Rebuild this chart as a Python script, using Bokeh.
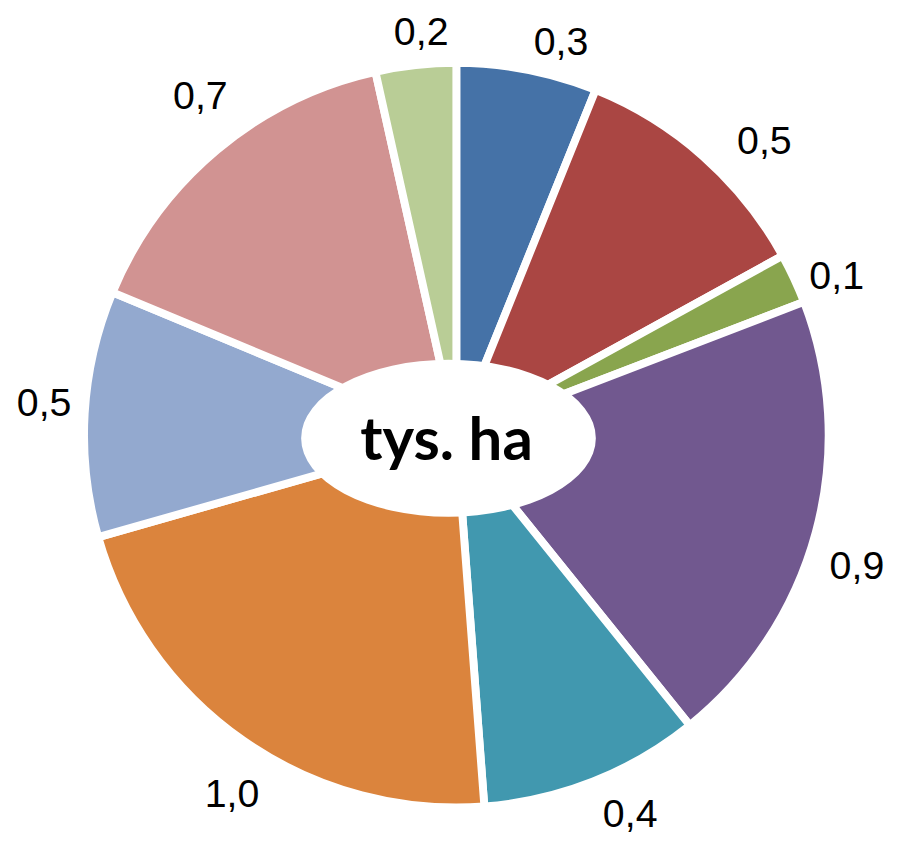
import math
from bokeh.plotting import figure
from bokeh.models import ColumnDataSource, Range1d
from bokeh.core.properties import value
from bokeh.embed import file_html
from bokeh.resources import INLINE

# ---- data (clockwise from 12 o'clock) ----
values = [0.28, 0.50, 0.10, 0.92, 0.44, 1.00, 0.49, 0.70, 0.16]
colors = ["#4572A7", "#AA4643", "#89A54E", "#71588F", "#4198AF",
          "#DB843D", "#93A9CF", "#D19392", "#B9CD96"]
center_label = "tys. ha"

# label placement tweaks (layout only)
label_nudge_deg = [3.9, 4.7, 2.1, 3.0, -3.1, -2.9, 1.2, 3.0, 1.3]
label_radius = [415, 434, 420, 429, 424, 431, 421, 433, 413]

W, H = 889, 836          # figure size in screen pixels
VW, VH = 905, 852        # view size in data units
S = W / VW               # screen px per data unit
R = 379                  # drawn radius (white stroke eats ~4 units)

total = sum(values)
cum = [0.0]
for v in values:
    cum.append(cum[-1] + v / total)

starts, ends, lx, ly, texts = [], [], [], [], []
for i, v in enumerate(values):
    a0, a1 = cum[i], cum[i + 1]
    starts.append(math.pi / 2 - 2 * math.pi * a1)
    ends.append(math.pi / 2 - 2 * math.pi * a0)
    mid_deg = (a0 + a1) / 2 * 360 + label_nudge_deg[i]
    th = math.radians(mid_deg)
    r = label_radius[i]
    lx.append(r * math.sin(th))
    ly.append(r * math.cos(th))
    texts.append(f"{v:.1f}".replace(".", ","))

src = ColumnDataSource(dict(start=starts, end=ends, color=colors))
lab = ColumnDataSource(dict(x=lx, y=ly, text=texts))

x0 = -461 - 3 / S
y1 = 440 + 3 / S
p = figure(width=W, height=H, output_backend="svg", toolbar_location=None,
           x_range=Range1d(x0, x0 + VW), y_range=Range1d(y1 - VH, y1),
           min_border=0, outline_line_color=None)
p.axis.visible = False
p.grid.visible = False
p.background_fill_color = "white"
p.border_fill_color = "white"

p.wedge(x=0, y=0, radius=R, start_angle="start", end_angle="end",
        fill_color="color", line_color="white", line_width=8 * S,
        line_join="round", source=src)

p.ellipse(x=-8, y=-3, width=300, height=160, fill_color="white",
          line_color=None)

p.text(x=[-10], y=[-2], text=[center_label], text_font=value("Lato"),
       text_font_style="bold", text_font_size=f"{61 * S:.1f}px",
       text_color="black", text_align="center", text_baseline="middle")

p.text(x="x", y="y", text="text", source=lab,
       text_font=value("Liberation Sans"), text_font_size=f"{40 * S:.1f}px",
       text_color="black", text_align="center", text_baseline="middle")

open("out.html", "w").write(file_html(p, INLINE))
